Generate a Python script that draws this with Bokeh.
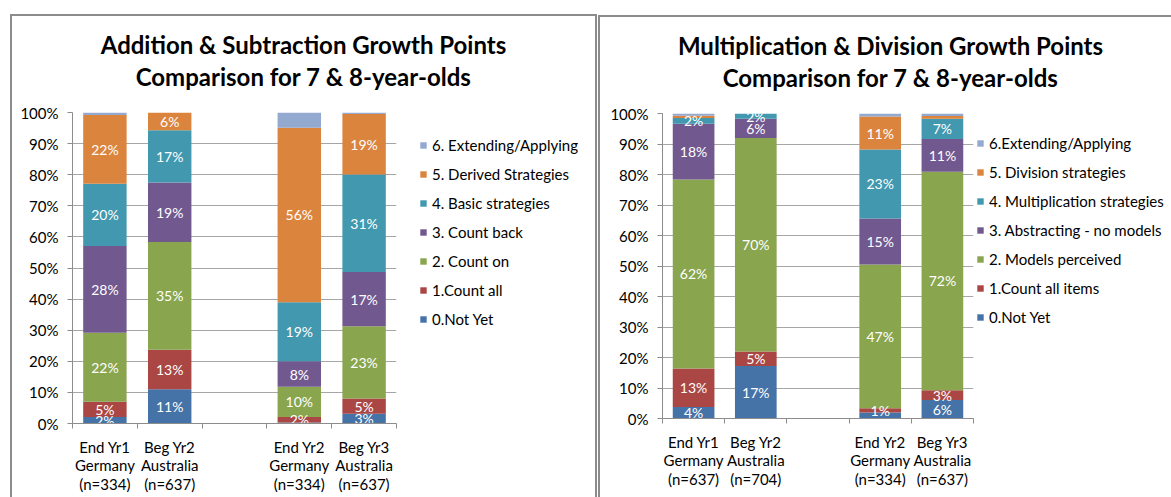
from bokeh.plotting import figure
from bokeh.models import Range1d, FixedTicker, Legend, LegendItem, Label, ColumnDataSource, PrintfTickFormatter
from bokeh.layouts import row, column
from bokeh.embed import file_html
from bokeh.resources import INLINE
from bokeh.core.properties import value

FONT = "Lato"

# ---------------- data ----------------
colors = ["#4572A7", "#AA4643", "#89A54E", "#71588F", "#4198AF", "#DB843D", "#93A9CF"]

as_title = ["Addition & Subtraction Growth Points", "Comparison for 7 & 8-year-olds"]
as_categories = ["End Yr1\nGermany\n(n=334)", "Beg Yr2\nAustralia\n(n=637)", "",
                 "End Yr2\nGermany\n(n=334)", "Beg Yr3\nAustralia\n(n=637)"]
as_series = ["0.Not Yet", "1.Count all", "2. Count on", "3. Count back",
             "4. Basic strategies", "5. Derived Strategies", "6. Extending/Applying"]
as_not_yet = [2.1, 11.0, 0, 0.3, 3.1]
as_count_all = [4.9, 12.7, 0, 1.8, 4.9]
as_count_on = [22.2, 34.7, 0, 9.7, 23.3]
as_count_back = [27.9, 19.1, 0, 8.2, 17.4]
as_basic = [20.0, 16.8, 0, 19.0, 31.4]
as_derived = [22.1, 5.7, 0, 56.1, 19.4]
as_extending = [0.8, 0.0, 0, 4.9, 0.5]

md_title = ["Multiplication & Division Growth Points", "Comparison for 7 & 8-year-olds"]
md_categories = ["End Yr1\nGermany\n(n=637)", "Beg Yr2\nAustralia\n(n=704)", "",
                 "End Yr2\nGermany\n(n=334)", "Beg Yr3\nAustralia\n(n=637)"]
md_series = ["0.Not Yet", "1.Count all items", "2. Models perceived", "3. Abstracting - no models",
             "4. Multiplication strategies", "5. Division strategies", "6.Extending/Applying"]
md_not_yet = [3.8, 17.2, 0, 2.0, 6.1]
md_count_all = [12.6, 4.8, 0, 1.4, 3.2]
md_models = [62.0, 70.0, 0, 47.1, 71.6]
md_abstracting = [18.2, 6.3, 0, 15.1, 10.7]
md_multiplication = [1.9, 1.7, 0, 22.6, 6.7]
md_division = [0.8, 0.0, 0, 10.8, 0.9]
md_extending = [0.7, 0.0, 0, 1.0, 0.8]

# (series index, category index) whose data label is not shown
as_hidden = []
md_hidden = [(0, 3)]

y_ticks = list(range(0, 101, 10))

GRID = "#A6A6A6"
AXIS = "#8C8C8C"
BORDER = "2px solid #8C8C8C"


def blank(w, h):
    p = figure(width=w, height=h, x_range=Range1d(0, 1), y_range=Range1d(0, 1),
               output_backend="svg", toolbar_location=None,
               min_border_left=0, min_border_right=0, min_border_top=0, min_border_bottom=0)
    p.axis.visible = False
    p.grid.visible = False
    p.outline_line_color = None
    p.background_fill_color = "white"
    p.border_fill_color = "white"
    return p


def make_panel(title_lines, categories, series_names, series_values, hidden,
               panel_w, panel_h, title_h, chart_w, mb, title_pos, legend_pos, margin, borders):
    n = len(categories)
    xs = [i + 0.5 for i in range(n)]
    chart_h = panel_h - title_h

    # ---- title ----
    tf = blank(panel_w, title_h)
    tx, ty1, ty2 = title_pos
    for text, ty in zip(title_lines, (ty1, ty2)):
        tf.add_layout(Label(x=tx, y=ty, x_units="screen", y_units="screen", text=text,
                            text_align="center", text_baseline="alphabetic",
                            text_font=FONT, text_font_style="bold", text_font_size="24px",
                            text_color="black"))

    # ---- chart ----
    p = figure(width=chart_w, height=chart_h, x_range=Range1d(0, n), y_range=Range1d(0, 100),
               output_backend="svg", toolbar_location=None,
               min_border_left=mb[0], min_border_right=mb[1],
               min_border_top=mb[2], min_border_bottom=mb[3])
    p.outline_line_color = None
    p.background_fill_color = "white"
    p.border_fill_color = "white"

    bottoms = [0.0] * n
    lx, ly, lt = [], [], []
    for s, (vals, col) in enumerate(zip(series_values, colors)):
        tops = [b + v for b, v in zip(bottoms, vals)]
        src = ColumnDataSource(dict(x=xs, top=tops, bottom=bottoms))
        p.vbar(x="x", top="top", bottom="bottom", width=0.67, source=src,
               fill_color=col, line_color=None)
        for c in range(n):
            v = vals[c]
            if s < 6 and v >= 1 and (s, c) not in hidden:
                lx.append(xs[c])
                ly.append((bottoms[c] + tops[c]) / 2)
                lt.append(f"{round(v)}%")
        bottoms = tops

    p.text(x="x", y="y", text="t", source=ColumnDataSource(dict(x=lx, y=ly, t=lt)),
           text_align="center", text_baseline="middle", text_color="white",
           text_font=value(FONT), text_font_size="14px")

    xa = p.xaxis[0]
    xa.ticker = FixedTicker(ticks=xs, minor_ticks=list(range(n + 1)))
    xa.major_label_overrides = {x: (c if c else " ") for x, c in zip(xs, categories)}
    xa.major_tick_out = 0
    xa.major_tick_in = 0
    xa.minor_tick_out = 5
    xa.minor_tick_in = 0
    xa.major_label_standoff = 9
    xa.major_label_text_font = FONT
    xa.major_label_text_font_size = "15px"
    xa.major_label_text_line_height = 1.03
    xa.major_label_text_color = "black"

    ya = p.yaxis[0]
    ya.ticker = FixedTicker(ticks=y_ticks, minor_ticks=[])
    ya.formatter = PrintfTickFormatter(format="%d%%")
    ya.major_tick_out = 5
    ya.major_tick_in = 0
    ya.minor_tick_out = 0
    ya.minor_tick_in = 0
    ya.major_label_standoff = 9
    ya.major_label_text_font = FONT
    ya.major_label_text_font_size = "15px"
    ya.major_label_text_color = "black"

    for ax in (xa, ya):
        ax.axis_line_color = AXIS
        ax.major_tick_line_color = AXIS
        ax.minor_tick_line_color = AXIS

    p.xgrid.visible = False
    p.ygrid.grid_line_color = GRID

    # ---- legend (swatch renderers sit outside the visible range) ----
    lf = blank(panel_w - chart_w, chart_h)
    swatches = [lf.vbar(x=[-5.0], top=[0.0], bottom=[0.0], width=0.1, fill_color=col, line_color=None)
                for col in colors]
    items = [LegendItem(label=name, renderers=[r]) for name, r in zip(series_names, swatches)][::-1]
    leg = Legend(items=items, location=legend_pos, orientation="vertical",
                 glyph_width=8, glyph_height=8, label_standoff=5,
                 label_height=18, spacing=11, padding=0, margin=0,
                 border_line_color=None, background_fill_alpha=0,
                 label_text_font=FONT, label_text_font_size="15px", label_text_color="black")
    lf.add_layout(leg)

    panel = column(tf, row(p, lf))
    panel.margin = margin
    panel.styles = borders
    return panel


left = make_panel(as_title, as_categories, as_series,
                  [as_not_yet, as_count_all, as_count_on, as_count_back, as_basic, as_derived, as_extending],
                  as_hidden, 583, 481, 86, 388, (60, 4, 10, 74),
                  (291, 58, 26), (19, 95), (14, 0, 0, 10),
                  {"border-top": BORDER, "border-left": BORDER, "border-right": BORDER})

right = make_panel(md_title, md_categories, md_series,
                   [md_not_yet, md_count_all, md_models, md_abstracting, md_multiplication, md_division, md_extending],
                   md_hidden, 571, 480, 85, 375, (62, 2, 11, 79),
                   (290, 57, 25), (1, 92), (15, 0, 0, 1),
                   {"border-top": BORDER, "border-left": BORDER})

layout = row(left, right)

open("out.html", "w").write(file_html(layout, INLINE))
